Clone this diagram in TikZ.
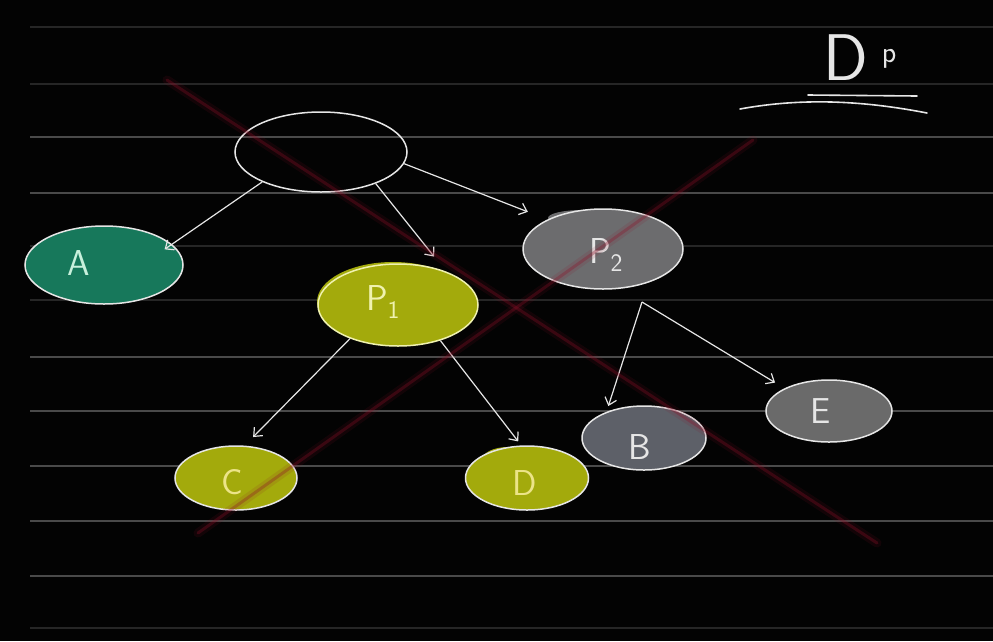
\documentclass[tikz,border=0pt]{standalone}
\usepackage{fontspec}
\usetikzlibrary{shapes.geometric,arrows.meta,calc}
\definecolor{board}{HTML}{030303}
\definecolor{chalk}{HTML}{E6E6E6}
\definecolor{tealfill}{HTML}{17785B}
\definecolor{olivefill}{HTML}{A3AA0C}
\definecolor{p2fill}{HTML}{6C6C6E}
\definecolor{bfill}{HTML}{5D6068}
\definecolor{efill}{HTML}{6A6A6A}
\definecolor{rulestrong}{HTML}{4A4A4A}
\definecolor{ruleweak}{HTML}{262626}
\definecolor{redx}{HTML}{8E1028}
\definecolor{tealtext}{HTML}{C8F0DC}
\definecolor{yeltext}{HTML}{F0F2B0}
\definecolor{yeltextb}{HTML}{ECE488}
\begin{document}
\begin{tikzpicture}[x=1pt,y=-1pt,
  ell/.style={ellipse, draw=chalk, line width=1.5pt, inner sep=0pt},
  lab/.style={font=\sffamily\fontsize{36}{36}\selectfont, text=chalk, inner sep=0pt},
  arr/.style={draw=chalk, line width=1.2pt, -{Straight Barb[length=7pt,width=12pt]}},
  ruling/.style={line width=1.6pt, draw=rulestrong},
  faintrule/.style={line width=1.6pt, draw=ruleweak},
  crossglow/.style={draw=redx, line width=9pt, opacity=0.12, line cap=round},
  crosscore/.style={draw=redx, line width=3pt, opacity=0.32, line cap=round}]
\fill[board] (0,0) rectangle (993,641);
\useasboundingbox (0,0) rectangle (993,641);
% ruled lines
\foreach \yy in {27,84,246,300,628} \draw[faintrule] (30,\yy) -- (993,\yy);
\foreach \yy in {137,193,357,411,466,521,576} \draw[ruling] (30,\yy) -- (993,\yy);
% colouring overshoots
\fill[olivefill] (393,302) ellipse [x radius=76, y radius=40];
\fill[p2fill] (582,218) ellipse [x radius=34, y radius=8];
\fill[olivefill] (508,460) ellipse [x radius=26, y radius=13];
% nodes
\node[ell, minimum width=172pt, minimum height=80pt] (root) at (321,152) {};
\node[ell, fill=tealfill, minimum width=158pt, minimum height=78pt,
  label={[lab, text=tealtext, xshift=-25pt, yshift=2pt]center:A}] (A) at (104,265) {};
\node[ell, draw=yeltext, fill=olivefill, minimum width=160pt, minimum height=82pt,
  label={[lab, text=yeltext, xshift=-15pt, yshift=3pt]center:P\textsubscript{1}}] (P1) at (398,305) {};
\node[ell, fill=p2fill, minimum width=160pt, minimum height=80pt,
  label={[lab, xshift=3pt, yshift=-6pt]center:P\textsubscript{2}}] (P2) at (603,249) {};
\node[ell, fill=olivefill, minimum width=122pt, minimum height=64pt,
  label={[lab, text=yeltextb, xshift=-4pt, yshift=-4pt]center:C}] (C) at (236,478) {};
\node[ell, fill=olivefill, minimum width=123pt, minimum height=64pt,
  label={[lab, text=yeltextb, xshift=-2pt, yshift=-5pt]center:D}] (D) at (527,478) {};
\node[ell, fill=bfill, minimum width=124pt, minimum height=64pt,
  label={[lab, xshift=-4pt, yshift=-9pt]center:B}] (B) at (644,438) {};
\node[ell, fill=efill, minimum width=126pt, minimum height=62pt,
  label={[lab, xshift=-8pt]center:E}] (E) at (829,411) {};
\coordinate (fork) at ($(P2.center)+(39,53)$);
% connectors
\draw[arr, shorten >=-9pt] (root.207) -- (A.17);
\draw[arr, shorten >=19pt] (root.-30) -- (P1.35);
\draw[arr, shorten >=21pt] (root.-8) -- (P2.152);
\draw[arr, shorten >=12pt] (P1.215) -- (C.75);
\draw[arr, shorten >=5pt] (P1.-40) -- (D.100);
\draw[arr, shorten >=6pt] (fork) -- (B.145);
\draw[arr, shorten >=11pt] (fork) -- (E.153);
% title
\node[text=chalk, inner sep=0pt, anchor=base west] (dp) at (823,80)
  {\sffamily\fontsize{66}{66}\selectfont D\hspace{14pt}\raisebox{18pt}{\fontsize{30}{30}\selectfont p}};
\draw[draw=chalk, line width=1.6pt, line cap=round] (808,95) -- (917,96);
\draw[draw=chalk, line width=1.6pt, line cap=round] (740,109) .. controls (800,98) and (860,100) .. (927,113);
% red cross
\draw[crossglow] (167,80) -- (877,543);
\draw[crossglow] (198,533) -- (753,140);
\draw[crosscore] (167,80) -- (877,543);
\draw[crosscore] (198,533) -- (753,140);
\end{tikzpicture}
\end{document}
